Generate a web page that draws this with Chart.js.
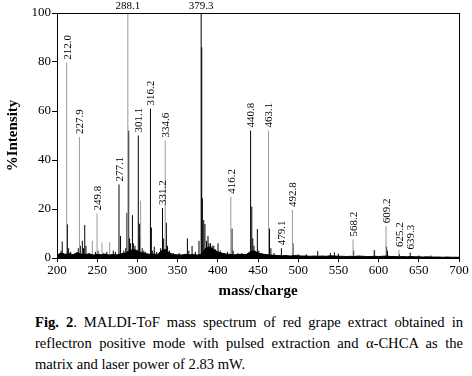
<!DOCTYPE html>
<html><head><meta charset="utf-8">
<script src="https://cdn.jsdelivr.net/npm/chart.js@4/dist/chart.umd.min.js"></script>
<style>
html,body{margin:0;padding:0;background:#fff;}
#wrap{position:relative;width:472px;height:376px;overflow:hidden;}
#c{position:absolute;left:0;top:0;}
#cap{position:absolute;left:35px;top:312px;width:428px;font-family:"Liberation Serif","Times New Roman",serif;font-size:14.6px;line-height:21px;text-align:justify;color:#000;}
</style></head>
<body><div id="wrap"><canvas id="c" width="472" height="305"></canvas>
<div id="cap"><b>Fig. 2</b>. MALDI-ToF mass spectrum of red grape extract obtained in reflectron positive mode with pulsed extraction and α-CHCA as the matrix and laser power of 2.83 mW.</div></div>
<script>
// ---- data ----
const xTicks = [200,250,300,350,400,450,500,550,600,650,700];
const yTicks = [0,20,40,60,80,100];

// baseline noise, one value every 5 m/z from 200 to 700
const baseStart = 200, baseStep = 5;
const baseNoise = [
 1.2,2.0,1.5,1.8,1.3,2.2,1.6,1.4,1.7,1.2,
 1.5,1.3,1.6,1.2,1.4,1.3,1.8,2.0,3.0,3.5,
 3.0,2.2,1.8,1.5,1.6,1.4,3.0,3.5,2.0,1.4,
 1.3,1.2,1.5,1.3,1.4,1.2,1.6,4.0,4.5,3.5,
 2.5,2.0,1.6,1.5,1.3,1.4,1.5,1.3,2.5,3.0,
 2.0,1.6,1.4,1.2,1.1,1.0,0.9,1.0,0.8,1.0,
 0.9,0.8,0.8,0.7,0.8,0.7,0.8,0.7,0.9,0.8,
 0.7,0.7,0.6,0.7,0.6,0.8,0.7,0.6,0.6,0.7,
 0.6,0.7,0.8,0.6,0.6,0.5,0.6,0.5,0.6,0.5,
 0.5,0.4,0.5,0.4,0.4,0.4,0.3,0.4,0.3,0.3,
 0.3];

// peaks drawn dark
const darkMz = [205,206.5,208,213,214.5,217,226.5,229,231.5,233,234.5,236,240,248,251,258,262,270,272.5,
 277.1,279,283,285.5,287,289.2,290.3,291.5,293.8,295,297,299,301.1,302.5,303.5,306,308,310,
 316.2,317.4,319,321,324,329,331.2,332.7,336,337.5,340,345,352,362.2,364,368,372,376.6,
 379.3,380.0,380.8,382.5,384,386,387.8,389,391,393,395,397,400.3,403,408,412,417.7,419,425,430,
 440.8,442.3,443.5,445,449.2,451,455,464.3,466,470,479.1,493.5,500,510,524.3,540,545,550,569,
 595,610,611,626,639.3,650,665];
const darkInt = [3,6.7,2,13.7,4,2.5,4,5,7,4,13.5,5,2,2.5,3,2,2.5,3,2.5,
 30,9,3,4,18.4,52,8,6,17.5,6,5,3,50,14,8,4,3,2.5,
 61,12.4,3,4.6,2.5,4,20.4,8,14.4,5,3,2,2,8,3,4.9,2.5,7,
 100,86,24.4,15.5,13.9,7,9,6,6,5,5,3.5,6,3,2,2.5,12,3,2,2,
 52,21,8,5,11.8,3,2,12,4,2,4,6,1.5,1.5,2.8,2,2.3,1.8,3,
 3.2,4.6,3,1.5,2.2,1,1];

// peaks drawn light grey
const lightMz  = [212.0,227.9,244,249.8,256,265.5,288.1,304,334.6,416.2,463.1,492.8,568.2,594,609.2,625.2];
const lightInt = [79.7,49.4,7,18.2,6.3,6.5,100,23.4,48,25,52,19.6,7.6,3.2,13,3.3];

// labelled peaks
const peakLabels = ['212.0','227.9','249.8','277.1','288.1','301.1','316.2','331.2','334.6','379.3',
 '416.2','440.8','463.1','479.1','492.8','568.2','609.2','625.2','639.3'];
const peakLabelMz = [212.0,227.9,249.8,277.1,288.1,301.1,316.2,331.2,334.6,379.3,
 416.2,440.8,463.1,479.1,492.8,568.2,609.2,625.2,639.3];
const peakLabelInt = [79.7,49.4,18.2,30,100,50,61,20.4,48,100,25,52,52,4,19.6,7.6,13,3.3,2.2];

// ---- build datasets ----
function sticks(mz, it){
  const out=[];
  mz.forEach((m,i)=>{out.push({x:m,y:0},{x:m,y:it[i]},{x:m,y:null});});
  return out;
}
const baseData = baseNoise.map((v,i)=>({x:baseStart+i*baseStep,y:v}));

const frame = {
  id:'frame',
  afterDatasetsDraw(chart){
    const {ctx, chartArea:a, scales:{x,y}} = chart;
    ctx.save();
    ctx.strokeStyle='#000'; ctx.lineWidth=1;
    ctx.strokeRect(Math.round(a.left)+0.5, Math.round(a.top)+0.5, Math.round(a.right-a.left), Math.round(a.bottom-a.top));
    ctx.fillStyle='#000';
    ctx.font='11px "Liberation Serif", "Times New Roman", serif';
    peakLabels.forEach((t,i)=>{
      const px = x.getPixelForValue(peakLabelMz[i]);
      const py = y.getPixelForValue(peakLabelInt[i]);
      if(peakLabelInt[i] >= 99){
        ctx.textAlign='center'; ctx.textBaseline='bottom';
        ctx.fillText(t, px, a.top-1);
      } else {
        ctx.save();
        ctx.translate(px+1, py-3);
        ctx.rotate(-Math.PI/2);
        ctx.textAlign='left'; ctx.textBaseline='middle';
        ctx.fillText(t, 0, 0);
        ctx.restore();
      }
    });
    ctx.restore();
  }
};

const serif = '"Liberation Serif", "Times New Roman", serif';
new Chart(document.getElementById('c'), {
  type:'scatter',
  data:{datasets:[
    {label:'baseline', data:baseData, showLine:true, pointRadius:0, borderColor:'#000', borderWidth:1, backgroundColor:'#000', fill:'origin', tension:0},
    {label:'light', data:sticks(lightMz,lightInt), showLine:true, spanGaps:false, pointRadius:0, borderColor:'#9a9a9a', borderWidth:1},
    {label:'dark', data:sticks(darkMz,darkInt), showLine:true, spanGaps:false, pointRadius:0, borderColor:'#000', borderWidth:1}
  ]},
  options:{
    responsive:false, animation:false,
    layout:{padding:{top:13,right:13,left:0,bottom:0}},
    plugins:{legend:{display:false}, tooltip:{enabled:false}},
    scales:{
      x:{type:'linear', min:200, max:700,
         afterBuildTicks(s){ s.ticks = xTicks.map(v=>({value:v})); },
         afterFit(s){ s.height = 47; },
         grid:{drawOnChartArea:false, drawTicks:true, tickLength:4, color:'#000'},
         border:{display:true, color:'#000'},
         ticks:{color:'#000', padding:1, maxRotation:0, font:{family:serif, size:13}},
         title:{display:true, text:'mass/charge', color:'#000', font:{family:serif, size:15, weight:'bold'}, padding:{top:0,bottom:5}}
      },
      y:{min:0, max:100,
         afterBuildTicks(s){ s.ticks = yTicks.map(v=>({value:v})); },
         afterFit(s){ s.width = 57; },
         grid:{drawOnChartArea:false, drawTicks:true, tickLength:5, color:'#000'},
         border:{display:true, color:'#000'},
         ticks:{color:'#000', padding:1, font:{family:serif, size:13}},
         title:{display:true, text:'%Intensity', color:'#000', font:{family:serif, size:15, weight:'bold'}, padding:{top:4,bottom:0}}
      }
    }
  },
  plugins:[frame]
});
</script>
</body></html>
